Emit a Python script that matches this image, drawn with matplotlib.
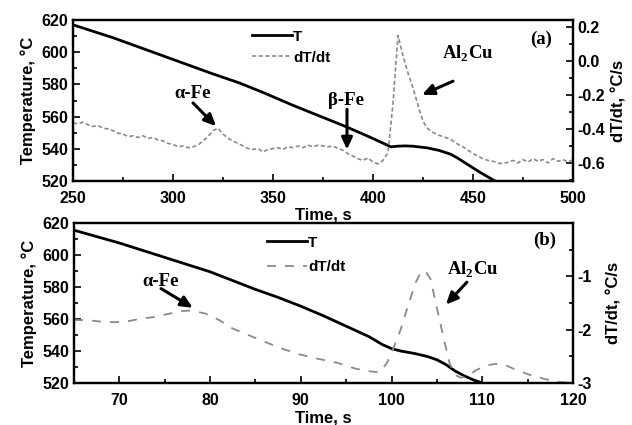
import numpy as np
import matplotlib
matplotlib.use("Agg")
import matplotlib.pyplot as plt
from matplotlib.lines import Line2D
from matplotlib.ticker import MultipleLocator, FormatStrFormatter

# ---------------- data: panel (a) ----------------
ta_T = [250, 260, 270, 280, 290, 300, 310, 320, 333, 345, 360, 372, 386, 398, 405, 409,
        412, 416, 420, 427, 433, 438.5, 442, 447, 453.5, 461, 470]
Ta = [617, 613, 609, 604.5, 600, 595.5, 591, 586.5, 581, 575, 567, 561, 554, 547.5, 543.5, 541.2,
      541.6, 541.8, 541.6, 540.6, 539, 536.8, 534.5, 530.5, 525.4, 520, 513]

ta_d = np.arange(250, 500.1, 2.5)
dTa = [-0.365, -0.37, -0.36, -0.375, -0.385, -0.38, -0.395, -0.40, -0.41, -0.425,
       -0.43, -0.445, -0.44, -0.45, -0.44, -0.455, -0.45, -0.465, -0.47, -0.485,
       -0.49, -0.505, -0.50, -0.51, -0.505, -0.495, -0.47, -0.445, -0.41, -0.395,
       -0.43, -0.455, -0.47, -0.485, -0.50, -0.515, -0.52, -0.515, -0.535, -0.52,
       -0.515, -0.51, -0.52, -0.505, -0.51, -0.50, -0.51, -0.495, -0.505, -0.495,
       -0.50, -0.505, -0.50, -0.515, -0.525, -0.545, -0.56, -0.575, -0.585, -0.57,
       -0.595, -0.605, -0.585, -0.54, -0.25, 0.15, 0.03, -0.07, -0.16, -0.26,
       -0.355, -0.40, -0.42, -0.435, -0.445, -0.455, -0.47, -0.49, -0.505, -0.525,
       -0.545, -0.56, -0.575, -0.585, -0.59, -0.60, -0.605, -0.595, -0.585, -0.60,
       -0.58, -0.595, -0.575, -0.59, -0.58, -0.60, -0.575, -0.59, -0.58, -0.595, -0.58]

# ---------------- data: panel (b) ----------------
tb_T = [65, 67.5, 70, 72.5, 75, 77.5, 80, 82.5, 85, 87.5, 90, 92.5, 95, 97.5, 99, 100,
        101, 102.5, 104, 105, 106, 107, 108, 109, 110, 112]
Tb = [615.5, 611.5, 607.5, 603, 598.5, 594, 589.5, 584, 578.5, 573.5, 568, 562, 555.5, 549, 544, 541.5,
      540, 538.5, 536.5, 534.5, 531.5, 527.5, 524.5, 522, 520, 516]

tb_d = [65, 66.5, 68, 69.5, 71, 72.5, 74, 75.5, 77, 78, 79.5, 81, 82.5, 84.5, 86.5, 88, 90, 92, 94,
        96, 97.5, 98.7, 99.5, 100.2, 101, 102, 102.7, 103.3, 103.8, 104.3, 105, 105.8, 106.4,
        107, 107.6, 108.3, 109.3, 110.5, 111.5, 112.5, 113.8, 115.3, 117, 118.5, 120]
dTb = [-1.82, -1.82, -1.85, -1.86, -1.84, -1.79, -1.76, -1.70, -1.65, -1.64, -1.70, -1.82, -1.98,
       -2.12, -2.26, -2.36, -2.47, -2.55, -2.62, -2.73, -2.78, -2.80, -2.62, -2.35, -2.00, -1.45,
       -1.10, -0.90, -0.92, -1.05, -1.60, -2.20, -2.63, -2.85, -2.90, -2.88, -2.76, -2.67, -2.64,
       -2.66, -2.76, -2.85, -2.93, -2.98, -3.0]

sans = ['Liberation Sans', 'DejaVu Sans']
serif = ['Liberation Serif', 'DejaVu Serif']
plt.rcParams['font.family'] = sans
plt.rcParams['font.weight'] = 'bold'
plt.rcParams['mathtext.fontset'] = 'custom'
plt.rcParams['mathtext.rm'] = 'Liberation Serif:bold'
plt.rcParams['mathtext.bf'] = 'Liberation Serif:bold'

fig = plt.figure(figsize=(6.32, 4.25), dpi=100)
W, H = 632, 425

def make_axes(l, r, t, b):
    return fig.add_axes([l / W, 1 - b / H, (r - l) / W, (b - t) / H])

axa = make_axes(73, 573, 20, 181)
axb = make_axes(74, 573, 223, 383)

grey = '#8a8a8a'

def style(ax, twin):
    for a in (ax, twin):
        for s in a.spines.values():
            s.set_linewidth(1.6)
    ax.tick_params(axis='both', which='both', direction='in', labelsize=11.5, width=1.2,
                   top=False, right=False)
    ax.tick_params(axis='x', which='both', pad=7)
    ax.tick_params(which='major', length=5)
    ax.tick_params(which='minor', length=3)
    twin.tick_params(axis='y', which='both', direction='in', labelsize=11.5, width=1.2)
    twin.tick_params(which='major', length=5)
    twin.tick_params(which='minor', length=3)
    for lab in ax.get_xticklabels() + ax.get_yticklabels() + twin.get_yticklabels():
        lab.set_fontweight('bold')

ann = dict(fontfamily=serif, fontweight='bold', fontsize=13.5, ha='center', va='center')
arr = dict(arrowstyle='-|>,head_length=0.7,head_width=0.32', color='black', lw=2.2,
           shrinkA=0, shrinkB=0)

def arrow(ax, start, tip):
    ax.annotate('', xy=tip, xytext=start, arrowprops=arr)

# ---------- panel (a) ----------
axa.plot(ta_T, Ta, color='black', lw=2.0, zorder=3)
axa.set_xlim(250, 500)
axa.set_ylim(520, 620)
axa.xaxis.set_major_locator(MultipleLocator(50))
axa.xaxis.set_minor_locator(MultipleLocator(25))
axa.yaxis.set_major_locator(MultipleLocator(20))
axa.yaxis.set_minor_locator(MultipleLocator(10))
ta2 = axa.twinx()
ta2.plot(ta_d, dTa, color=grey, lw=1.2, ls=(0, (2.5, 1.5)))
ta2.set_ylim(-0.706, 0.241)
ta2.yaxis.set_major_locator(MultipleLocator(0.2))
ta2.yaxis.set_minor_locator(MultipleLocator(0.1))
ta2.yaxis.set_major_formatter(FormatStrFormatter('%.1f'))
style(axa, ta2)
axa.set_xlabel('Time, s', fontsize=12, fontweight='bold', labelpad=1)
axa.set_ylabel('Temperature, \u00b0C', fontsize=12, fontweight='bold', labelpad=4)
ta2.set_ylabel('dT/dt, \u00b0C/s', fontsize=12, fontweight='bold', labelpad=4)

handles = [Line2D([], [], color='black', lw=2.0),
           Line2D([], [], color=grey, lw=1.2, ls=(0, (2.5, 1.5)))]
axa.legend(handles, ['T', 'dT/dt'], loc='upper left', bbox_to_anchor=(0.358, 0.94),
           frameon=False, borderpad=0, borderaxespad=0, handlelength=2.6,
           handletextpad=0.1, labelspacing=0.45, prop={'weight': 'bold', 'size': 11})

axa.text(310, 574.3, '\u03b1-Fe', **ann)
arrow(axa, (310, 568.5), (321.5, 554))
axa.text(386.5, 570, '\u03b2-Fe', **ann)
arrow(axa, (387, 564.5), (387, 539.5))
axa.text(447.5, 599, r'Al$_\mathbf{2}$Cu', **ann)
arrow(axa, (440, 582), (424.5, 573.5))
axa.text(484, 607.7, '(a)', **ann)

# ---------- panel (b) ----------
axb.plot(tb_T, Tb, color='black', lw=2.0, zorder=3)
axb.set_xlim(65, 120)
axb.set_ylim(520, 620)
axb.xaxis.set_major_locator(MultipleLocator(10))
axb.xaxis.set_minor_locator(MultipleLocator(5))
axb.yaxis.set_major_locator(MultipleLocator(20))
axb.yaxis.set_minor_locator(MultipleLocator(10))
tb2 = axb.twinx()
tb2.plot(tb_d, dTb, color=grey, lw=1.3, ls=(0, (5, 5)))
tb2.set_ylim(-3, 0)
tb2.set_yticks([-3, -2, -1])
tb2.yaxis.set_minor_locator(MultipleLocator(0.5))
tb2.yaxis.set_major_formatter(FormatStrFormatter('%d'))
style(axb, tb2)
axb.set_xlabel('Time, s', fontsize=12, fontweight='bold', labelpad=2)
axb.set_ylabel('Temperature, \u00b0C', fontsize=12, fontweight='bold', labelpad=4)
tb2.set_ylabel('dT/dt, \u00b0C/s', fontsize=12, fontweight='bold', labelpad=10)

handles_b = [Line2D([], [], color='black', lw=2.0),
             Line2D([], [], color=grey, lw=1.3, ls=(0, (5, 5)))]
axb.legend(handles_b, ['T', 'dT/dt'], loc='upper left', bbox_to_anchor=(0.387, 0.92),
           frameon=False, borderpad=0, borderaxespad=0, handlelength=2.6,
           handletextpad=0.1, labelspacing=0.7, prop={'weight': 'bold', 'size': 11})

axb.text(74.6, 583.75, '\u03b1-Fe', **ann)
arrow(axb, (74.6, 579), (78.1, 567))
axb.text(109, 591, r'Al$_\mathbf{2}$Cu', **ann)
arrow(axb, (108.3, 583), (106, 569))
axb.text(116.9, 609, '(b)', **ann)

fig.savefig('out.png', dpi=100)
